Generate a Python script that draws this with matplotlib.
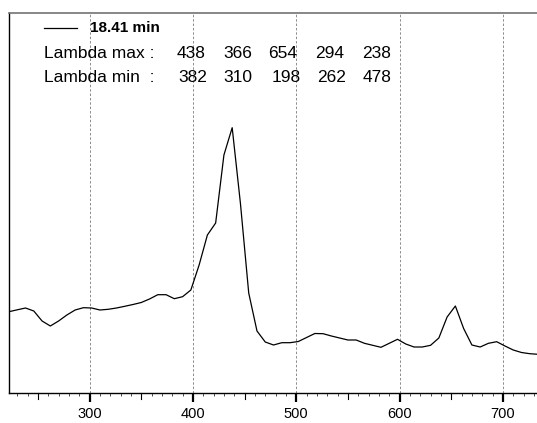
import matplotlib
matplotlib.use("Agg")
import matplotlib.pyplot as plt
from matplotlib.lines import Line2D
from matplotlib.ticker import MultipleLocator

plt.rcParams["font.family"] = ["Liberation Sans", "DejaVu Sans"]

# Spectrum sampled every 8 nm from 222 to 734 nm (arbitrary absorbance units)
wavelength = list(range(222, 735, 8))
absorbance = [
    81.3, 83.2, 85.0, 82.0, 72.0, 67.0, 72.0, 78.0, 83.0, 85.3,
    85.0, 83.0, 83.7, 85.0, 86.7, 88.5, 90.5, 94.0, 98.3, 98.3,
    94.3, 96.3, 103.0, 128.0, 158.0, 170.0, 238.0, 265.3, 189.4, 100.0,
    62.0, 51.0, 48.0, 50.3, 50.3, 51.5, 55.5, 59.5, 59.3, 57.0,
    55.0, 53.0, 53.0, 49.7, 47.7, 45.7, 49.7, 53.7, 49.0, 46.0,
    46.0, 47.7, 55.0, 76.0, 87.0, 64.5, 48.0, 46.0, 49.7, 51.3,
    47.0, 43.0, 40.5, 39.3, 38.7,
]

trace_label = "18.41 min"
lambda_max = [438, 366, 654, 294, 238]
lambda_min = [382, 310, 198, 262, 478]

W, H = 537, 423
fig = plt.figure(figsize=(W / 100, H / 100), dpi=100)
ax = fig.add_axes([9 / W, 30 / H, (W - 9) / W, 380 / H])

ax.plot(wavelength, absorbance, color="black", linewidth=0.9)
ax.set_xlim(222, 733)
ax.set_ylim(0, 380)

ax.xaxis.set_major_locator(MultipleLocator(100))
ax.xaxis.set_minor_locator(MultipleLocator(10))
ax.set_yticks([])
ax.tick_params(axis="x", which="major", length=6.5, width=1.6, pad=3.5,
               labelsize=10.5, direction="out")
ax.tick_params(axis="x", which="minor", length=2.5, width=0.7,
               color="0.3", direction="out")
# slightly longer ticks at the 50s
for x in range(250, 734, 100):
    ax.plot([x, x], [0, -6], color="black", lw=0.8, clip_on=False)

ax.grid(True, axis="x", which="major", color="0.55", linestyle=(0, (2.5, 2)),
        linewidth=0.7)
ax.spines["right"].set_visible(False)
ax.spines["top"].set_color("0.45")
ax.spines["top"].set_linewidth(1.2)
ax.spines["left"].set_linewidth(1.0)
ax.spines["bottom"].set_linewidth(1.0)

# legend-like header
fx = lambda px: px / W
fy = lambda py: 1 - py / H
fig.add_artist(Line2D([fx(44), fx(77)], [fy(27.7), fy(27.7)],
                      color="black", linewidth=0.9))
fig.text(fx(90), fy(28.5), trace_label, fontsize=11, fontweight="bold",
         va="center", ha="left")
fig.text(fx(44), fy(53), "Lambda max :", fontsize=12.5, va="center")
fig.text(fx(44), fy(77), "Lambda min  :", fontsize=12.5, va="center")
max_x = [177, 223, 268, 315, 362]
min_x = [178, 223, 272, 317, 363]
for v, x in zip(lambda_max, max_x):
    fig.text(fx(x), fy(53), str(v), fontsize=12.5, va="center")
for v, x in zip(lambda_min, min_x):
    fig.text(fx(x), fy(77), str(v), fontsize=12.5, va="center")

fig.savefig("out.png", dpi=100)
